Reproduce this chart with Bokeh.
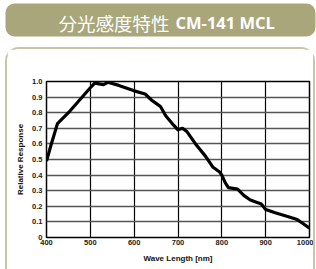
from bokeh.plotting import figure
from bokeh.layouts import column
from bokeh.models import Range1d, FixedTicker, NumeralTickFormatter, Label, BoxAnnotation
from bokeh.embed import file_html
from bokeh.resources import INLINE

# ---- data ----
title_jp = "分光感度特性"
title_model = "CM-141 MCL"
x_label = "Wave Length [nm]"
y_label = "Relative Response"
x_ticks = [400, 500, 600, 700, 800, 900, 1000]
y_ticks = [0, 0.1, 0.2, 0.3, 0.4, 0.5, 0.6, 0.7, 0.8, 0.9, 1.0]
wavelength = [400, 410, 425, 450, 475, 500, 510, 520, 530, 540, 565, 600, 625,
              640, 650, 660, 672, 690, 700, 710, 720, 740, 763, 780, 795, 800,
              808, 815, 836, 850, 865, 890, 900, 920, 950, 972, 985, 1000]
response = [0.49, 0.59, 0.73, 0.80, 0.88, 0.96, 0.99, 0.985, 0.98, 0.995, 0.975,
            0.94, 0.92, 0.88, 0.86, 0.84, 0.78, 0.72, 0.69, 0.70, 0.68, 0.60,
            0.52, 0.45, 0.42, 0.40, 0.35, 0.32, 0.31, 0.27, 0.24, 0.215, 0.18,
            0.16, 0.135, 0.115, 0.09, 0.06]

OLIVE = "#a9a67b"
BOX = "#c9c6a7"

# ---- header figure (frame covers whole canvas, coords = pixels) ----
h = figure(width=316, height=39, output_backend="svg", toolbar_location=None,
           title=None, x_range=Range1d(0, 316), y_range=Range1d(39, 0),
           x_axis_type=None, y_axis_type=None, frame_align=False,
           min_border=0, background_fill_color="white",
           border_fill_color="white", outline_line_color=None)
h.grid.visible = False
band = BoxAnnotation(left=5, right=315, top=3, bottom=36,
                     fill_color=OLIVE, fill_alpha=1.0, line_color=None)
try:
    band.border_radius = 9
except Exception:
    pass
h.add_layout(band)
h.add_layout(Label(x=58, y=22, text=title_jp, text_color="white",
                   text_font="Noto Sans CJK JP", text_font_size="18.5px",
                   text_baseline="middle", text_align="left"))
h.add_layout(Label(x=175, y=22, text=title_model, text_color="white",
                   text_font="Open Sans", text_font_style="bold",
                   text_font_size="16.5px",
                   text_baseline="middle", text_align="left"))

# ---- chart figure ----
p = figure(width=306, height=220, output_backend="svg", toolbar_location=None,
           x_range=Range1d(400, 1000), y_range=Range1d(0, 1.0),
           frame_align=False, margin=(0, 0, 0, 5),
           min_border_left=39, min_border_right=8, min_border_top=32,
           min_border_bottom=34,
           background_fill_color="white", border_fill_color="white",
           outline_line_color="black", outline_line_width=1.5,
           styles={"box-sizing": "content-box",
                   "border": "2px solid " + BOX, "border-bottom": "none",
                   "border-radius": "14px 14px 0 0"})

p.line(wavelength, response, line_color="black", line_width=3.2,
       line_join="round")

p.xaxis.ticker = FixedTicker(ticks=x_ticks)
p.yaxis.ticker = FixedTicker(ticks=y_ticks)
p.yaxis.formatter = NumeralTickFormatter(format="0.0")
p.yaxis.major_label_overrides = {0: "0"}

for ax in (p.xaxis, p.yaxis):
    ax.axis_line_color = None
    ax.major_tick_line_color = None
    ax.minor_tick_line_color = None
    ax.major_tick_out = 0
    ax.major_tick_in = 0
    ax.minor_tick_out = 0
    ax.minor_tick_in = 0
    ax.major_label_text_font = "Liberation Sans"
    ax.major_label_text_font_style = "bold"
    ax.major_label_text_font_size = "7.5px"
    ax.major_label_text_color = "#222222"
    ax.axis_label_text_font = "Liberation Sans"
    ax.axis_label_text_font_style = "bold"
    ax.axis_label_text_font_size = "8px"
    ax.axis_label_text_color = "#111111"

p.xaxis.axis_label = x_label
p.yaxis.axis_label = y_label
p.xaxis.major_label_standoff = 2
p.yaxis.major_label_standoff = 4
p.xaxis.axis_label_standoff = 6
p.yaxis.axis_label_standoff = 4

p.xgrid.ticker = FixedTicker(ticks=x_ticks)
p.ygrid.ticker = FixedTicker(ticks=y_ticks)
p.xgrid.grid_line_color = "black"
p.xgrid.grid_line_width = 1.2
p.ygrid.grid_line_color = "#555555"
p.ygrid.grid_line_width = 1.4

layout = column(h, p, spacing=8)
open("out.html", "w").write(file_html(layout, INLINE))
